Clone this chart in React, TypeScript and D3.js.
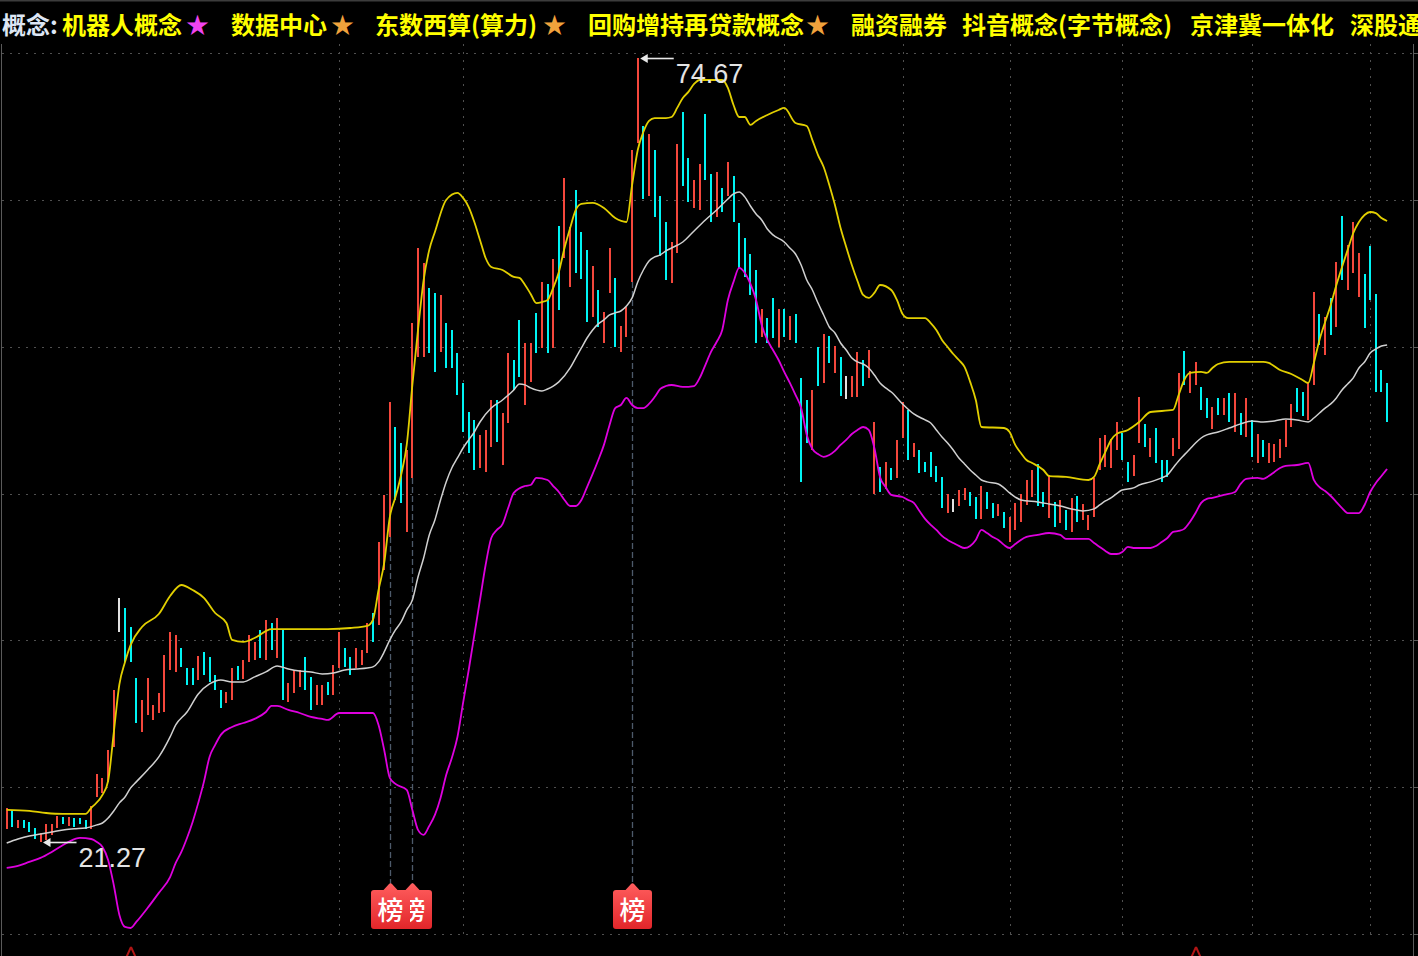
import React from "react";
import * as d3 from "d3";

const W = 1418;
const H = 956;

// header concepts
const conceptLabel = "概念:";
const concepts = ["机器人概念", "数据中心", "东数西算(算力)", "回购增持再贷款概念", "融资融券", "抖音概念(字节概念)", "京津冀一体化", "深股通"];
const conceptX = [62, 231, 375, 588, 851, 962, 1190, 1350];
const starX = [186, 331, 543, 806];
const starColor = ["#f044f0", "#f0a23c", "#f0a23c", "#f0a23c"];

// daily bars (price high / low), r = up, c = down, w = flat
const high = [
  23.59, 23.45, 22.77, 22.77, 22.63, 22.22, 21.88, 22.5, 22.5, 23.04,
  22.97, 22.97, 22.9, 22.9, 22.77, 23.72, 25.9, 25.63, 27.53, 31.62,
  37.89, 37.21, 35.91, 32.44, 30.94, 32.44, 30.6, 31.42, 34.0, 35.57,
  35.37, 34.48, 33.12, 33.12, 33.94, 34.21, 33.87, 32.64, 31.62, 31.48,
  33.12, 33.26, 33.66, 35.37, 34.89, 35.71, 36.39, 36.18, 36.52, 35.71,
  32.1, 32.98, 32.98, 33.87, 32.51, 31.96, 31.96, 32.17, 33.32, 35.57,
  34.48, 33.87, 34.48, 34.34, 36.18, 36.86, 41.7, 44.9, 51.23, 49.53,
  48.44, 47.96, 56.61, 61.72, 60.7, 59.0, 58.66, 58.52, 56.61, 56.14,
  54.57, 52.53, 50.55, 50.01, 48.99, 49.33, 51.37, 51.37, 50.48, 54.57,
  54.09, 56.82, 55.25, 55.25, 57.29, 59.41, 59.27, 60.97, 63.22, 66.49,
  63.15, 65.67, 62.81, 61.58, 60.5, 58.86, 57.36, 61.72, 59.68, 56.41,
  57.7, 68.39, 74.67, 70.03, 69.48, 68.39, 65.26, 63.49, 62.13, 68.8,
  70.98, 67.85, 66.35, 67.44, 70.85, 66.76, 66.9, 65.81, 67.58, 66.62,
  63.42, 62.4, 61.31, 60.22, 57.57, 56.95, 58.32, 57.57, 57.57, 57.09,
  57.23, 52.87, 51.37, 52.05, 54.98, 55.86, 55.73, 55.05, 54.3, 53.0,
  53.0, 54.64, 54.09, 54.77, 49.87, 46.81, 47.15, 46.74, 48.65, 51.23,
  50.69, 48.44, 47.96, 47.15, 47.83, 46.88, 46.13, 44.97, 44.63, 45.24,
  45.38, 45.1, 44.76, 45.51, 45.1, 44.36, 44.29, 43.74, 43.4, 44.36,
  44.97, 45.92, 46.6, 47.01, 45.1, 46.26, 44.42, 44.56, 43.88, 44.7,
  44.83, 44.29, 43.54, 46.06, 48.78, 48.99, 48.71, 49.87, 49.12, 47.15,
  47.62, 51.57, 49.74, 48.78, 49.46, 47.28, 47.28, 48.78, 53.21, 54.71,
  53.34, 53.96, 52.26, 51.51, 50.89, 51.51, 51.51, 51.85, 51.85, 50.48,
  51.51, 50.01, 49.05, 48.65, 48.44, 48.37, 48.71, 50.01, 51.1, 52.19,
  51.91, 52.53, 58.72, 57.23, 57.02, 58.32, 60.77, 63.9, 61.93, 63.49,
  61.38, 59.95, 61.86, 58.59, 53.41, 52.53,
];
const low = [
  22.16, 22.29, 22.22, 22.22, 21.95, 21.47, 21.27, 21.41, 21.75, 22.22,
  22.5, 22.36, 22.29, 22.5, 22.16, 22.16, 24.33, 24.61, 25.36, 27.74,
  35.57, 33.53, 33.53, 29.37, 28.76, 29.92, 29.58, 30.05, 30.12, 32.98,
  32.85, 33.19, 31.96, 31.96, 32.3, 32.64, 32.17, 31.62, 30.4, 30.74,
  30.94, 32.3, 32.37, 33.53, 33.66, 33.8, 33.66, 34.34, 33.8, 30.94,
  30.8, 31.42, 31.83, 31.62, 30.26, 30.6, 30.6, 31.28, 31.28, 33.12,
  33.19, 32.64, 33.12, 33.32, 34.14, 34.89, 36.05, 39.79, 42.04, 44.56,
  44.36, 42.38, 46.06, 54.3, 54.3, 54.57, 53.28, 54.64, 53.55, 53.55,
  51.71, 49.19, 47.76, 46.6, 46.74, 46.47, 48.17, 48.51, 46.94, 49.8,
  52.05, 52.94, 51.03, 52.6, 54.57, 54.91, 54.57, 54.91, 57.5, 61.04,
  59.07, 60.02, 59.61, 56.68, 57.02, 56.34, 55.25, 58.66, 54.98, 54.64,
  55.66, 59.41, 68.87, 65.06, 65.26, 63.83, 61.18, 59.54, 59.34, 61.38,
  65.94, 64.85, 64.45, 64.31, 66.35, 63.49, 63.83, 64.17, 65.26, 63.49,
  60.36, 59.75, 58.52, 55.25, 55.66, 55.25, 55.59, 54.98, 55.66, 55.46,
  55.25, 45.79, 48.44, 47.96, 52.32, 52.53, 53.89, 53.21, 51.64, 51.44,
  51.57, 51.57, 52.32, 52.87, 44.97, 45.1, 45.31, 45.92, 46.06, 48.78,
  47.28, 47.49, 46.4, 46.47, 46.13, 45.79, 44.02, 43.67, 43.74, 44.15,
  44.56, 44.15, 43.27, 43.27, 43.95, 43.33, 43.47, 42.65, 41.7, 42.52,
  43.06, 44.22, 44.76, 44.15, 44.08, 43.33, 42.72, 42.99, 42.52, 42.38,
  43.06, 43.2, 42.52, 43.4, 46.6, 46.81, 46.74, 47.96, 47.28, 45.79,
  46.19, 48.44, 48.17, 47.49, 47.08, 45.79, 46.13, 47.56, 48.03, 52.39,
  51.85, 52.39, 50.69, 50.14, 49.4, 50.35, 50.35, 49.87, 49.19, 48.99,
  48.85, 47.49, 47.08, 47.49, 47.08, 47.15, 47.42, 48.17, 49.53, 50.55,
  50.28, 50.01, 52.39, 55.12, 54.43, 55.8, 56.34, 59.54, 58.86, 60.02,
  58.38, 56.27, 58.18, 51.91, 51.91, 49.87,
];
const trend = (
  "rcrcccrrrr" + "crcccrrrrr" + "wcccrrrrrr" + "rcccrccccr" + "rcrrrcrcrc" +
  "rrrccrrcrr" + "ccrrrcrrrc" + "crrrrccrcc" + "ccccrrrcrr" + "ccrrcrcrcr" +
  "rcccrcrrcr" + "rrrcrcccrr" + "ccrrccrcrc" + "ccccrccrcr" + "cccrcrcrcw" +
  "rrcrrcrcrr" + "crcccccrwr" + "rccrccrcrr" + "rrrccrcrcr" + "crrrrrrrcc" +
  "rrcrcccrrc" + "rrccrcrcrc" + "rcrcrrrrrc" + "crrcrcrcrr" + "rccccc"
).split("");

// BOLL lines, [bar index, price]
const upperBand: [number, number][] = [
  [0, 23.45], [4, 23.38], [7, 23.24], [10, 23.18], [14, 23.18], [15, 23.59], [17, 24.47], [18, 25.42],
  [19, 28.7], [20, 32.0], [21, 33.53], [22, 34.69], [24, 35.91], [27, 36.79], [29, 38.02], [31, 38.77],
  [33, 38.43], [35, 37.89], [37, 36.86], [39, 36.18], [40, 35.03], [42, 34.89], [44, 35.16], [47, 35.77],
  [53, 35.77], [57, 35.77], [61, 35.84], [64, 35.98], [65, 36.39], [66, 38.43], [67, 40.27], [68, 43.4],
  [69, 44.76], [70, 46.26], [71, 48.31], [72, 52.39], [73, 56.14], [74, 59.54], [75, 61.59], [76, 62.81],
  [78, 64.99], [80, 65.47], [81, 65.13], [82, 64.51], [83, 63.49], [84, 62.27], [85, 61.04], [86, 60.43],
  [88, 60.22], [90, 59.75], [91, 59.68], [92, 59.2], [93, 58.59], [94, 57.97], [95, 58.04], [96, 58.18],
  [97, 59.0], [98, 60.09], [99, 61.72], [100, 63.08], [101, 64.31], [102, 64.72], [104, 64.79], [106, 64.45],
  [108, 63.76], [110, 63.49], [111, 66.01], [112, 68.39], [113, 69.62], [114, 70.37], [115, 70.57], [117, 70.57],
  [118, 70.64], [119, 71.26], [120, 71.94], [121, 72.35], [122, 72.89], [123, 73.16], [127, 73.16], [128, 72.62],
  [129, 71.46], [130, 70.64], [131, 70.64], [132, 70.1], [133, 70.37], [135, 70.78], [137, 71.12], [138, 71.26],
  [140, 70.23], [142, 70.03], [143, 69.07], [144, 68.05], [145, 67.24], [146, 66.01], [147, 64.65], [148, 63.08],
  [149, 61.79], [150, 60.56], [151, 59.47], [152, 58.52], [153, 58.32], [154, 58.66], [155, 59.2], [157, 58.86],
  [158, 58.18], [159, 57.23], [160, 56.95], [163, 56.95], [164, 56.61], [165, 56.14], [166, 55.46], [167, 54.98],
  [168, 54.5], [169, 54.09], [170, 53.62], [171, 52.6], [172, 51.37], [173, 49.53], [177, 49.46], [178, 49.19],
  [179, 48.31], [180, 47.76], [181, 47.28], [182, 47.08], [184, 46.6], [185, 46.19], [188, 46.13], [192, 45.92],
  [193, 46.13], [194, 47.01], [195, 47.83], [196, 48.65], [197, 49.06], [199, 49.33], [201, 49.87], [203, 50.55],
  [207, 50.69], [208, 51.71], [209, 52.73], [210, 53.21], [212, 53.28], [213, 53.21], [214, 53.55], [215, 53.82],
  [217, 53.96], [223, 53.96], [224, 53.89], [226, 53.41], [228, 53.14], [230, 52.73], [231, 52.53], [232, 53.89],
  [233, 55.46], [234, 56.68], [235, 57.84], [236, 59.2], [237, 60.43], [238, 61.59], [239, 62.74], [240, 63.49],
  [241, 63.97], [242, 64.17], [243, 64.1], [244, 63.76], [245, 63.56],
];
const midBand: [number, number][] = [
  [0, 21.2], [2, 21.47], [4, 21.68], [6, 21.81], [8, 21.95], [10, 22.09], [12, 22.16], [14, 22.22],
  [16, 22.43], [17, 22.56], [18, 22.9], [19, 23.38], [20, 23.93], [21, 24.33], [22, 24.95], [23, 25.36],
  [25, 26.17], [27, 27.06], [29, 28.42], [30, 29.24], [32, 30.12], [34, 31.35], [36, 32.03], [38, 32.3],
  [40, 32.17], [42, 32.17], [44, 32.51], [46, 32.85], [48, 33.26], [50, 33.05], [52, 32.91], [54, 32.85],
  [56, 32.71], [58, 32.78], [60, 32.98], [62, 33.05], [64, 33.12], [65, 33.19], [66, 33.53], [67, 34.21],
  [68, 35.03], [69, 35.71], [70, 36.25], [71, 37.07], [72, 37.75], [73, 39.31], [74, 40.61], [75, 42.17],
  [76, 43.2], [77, 44.56], [78, 45.79], [79, 46.74], [80, 47.42], [81, 48.1], [82, 48.65], [83, 49.19],
  [84, 49.87], [86, 50.82], [88, 51.37], [90, 52.05], [91, 52.46], [92, 52.4], [93, 52.19], [95, 51.98],
  [96, 52.12], [97, 52.32], [98, 52.6], [100, 53.55], [101, 54.23], [102, 54.91], [103, 55.59], [104, 56.14],
  [105, 56.55], [106, 56.82], [107, 57.16], [108, 57.3], [109, 57.43], [110, 57.77], [111, 58.32], [112, 59.41],
  [113, 60.22], [114, 60.84], [115, 61.11], [116, 61.25], [117, 61.52], [118, 61.72], [120, 62.13], [122, 62.88],
  [124, 63.63], [126, 64.31], [128, 65.06], [129, 65.4], [130, 65.54], [131, 65.2], [132, 64.58], [133, 64.04],
  [134, 63.63], [135, 63.01], [136, 62.61], [138, 62.13], [139, 61.72], [140, 61.31], [141, 60.56], [142, 59.54],
  [143, 58.86], [144, 57.97], [145, 57.16], [146, 56.34], [147, 55.93], [148, 55.25], [149, 54.77], [150, 54.23],
  [151, 53.96], [152, 53.82], [153, 53.55], [154, 53.07], [155, 52.53], [156, 52.19], [157, 51.91], [159, 51.1],
  [161, 50.42], [163, 50.01], [164, 49.8], [165, 49.33], [166, 48.85], [167, 48.44], [168, 47.96], [169, 47.42],
  [170, 47.01], [171, 46.6], [172, 46.26], [173, 45.92], [174, 45.79], [176, 45.65], [177, 45.38], [178, 45.04],
  [179, 44.76], [180, 44.56], [183, 44.42], [185, 44.29], [187, 44.15], [189, 43.95], [191, 43.81], [193, 43.95],
  [194, 44.22], [195, 44.49], [196, 44.7], [198, 45.24], [200, 45.38], [201, 45.58], [203, 45.79], [205, 46.06],
  [206, 46.26], [207, 46.74], [208, 47.22], [209, 47.63], [210, 48.03], [211, 48.44], [212, 48.78], [213, 48.99],
  [215, 49.19], [217, 49.46], [219, 49.74], [221, 49.94], [223, 49.87], [225, 49.94], [227, 50.08], [229, 50.01],
  [231, 49.87], [232, 50.14], [233, 50.48], [234, 50.82], [235, 51.1], [236, 51.51], [237, 52.05], [238, 52.46],
  [239, 52.87], [240, 53.55], [241, 53.96], [242, 54.57], [243, 54.84], [244, 55.05], [245, 55.12],
];
const lowerBand: [number, number][] = [
  [0, 19.5], [2, 19.64], [4, 19.91], [6, 20.18], [8, 20.59], [10, 21.06], [11, 21.27], [13, 21.54],
  [15, 21.47], [16, 21.27], [17, 20.93], [18, 20.04], [19, 18.34], [20, 16.3], [21, 15.48], [22, 15.41],
  [23, 15.82], [25, 16.77], [27, 17.8], [29, 18.88], [30, 19.84], [31, 20.59], [32, 21.54], [33, 22.63],
  [34, 23.93], [35, 25.36], [36, 27.06], [37, 27.88], [38, 28.56], [40, 29.1], [42, 29.37], [44, 29.65],
  [46, 30.12], [47, 30.53], [48, 30.53], [50, 30.26], [52, 30.05], [54, 29.78], [56, 29.65], [57, 29.58],
  [59, 30.05], [62, 30.05], [65, 30.05], [66, 29.24], [67, 27.53], [68, 25.63], [69, 25.22], [71, 24.81],
  [72, 23.45], [73, 22.09], [74, 21.75], [75, 22.36], [76, 23.11], [77, 24.27], [78, 25.83], [79, 26.99],
  [80, 28.42], [81, 30.74], [82, 32.98], [83, 35.37], [84, 37.75], [85, 40.13], [86, 41.97], [87, 42.52],
  [88, 42.92], [89, 44.01], [90, 45.04], [92, 45.51], [93, 45.58], [94, 46.06], [96, 45.92], [97, 45.51],
  [98, 45.1], [99, 44.56], [100, 44.15], [101, 44.15], [102, 44.56], [103, 45.44], [104, 46.33], [105, 47.28],
  [106, 48.31], [107, 49.67], [108, 50.82], [109, 51.03], [110, 51.51], [111, 51.03], [112, 50.82], [113, 50.82],
  [114, 51.1], [115, 51.57], [116, 52.12], [117, 52.32], [118, 52.39], [120, 52.26], [122, 52.32], [123, 52.87],
  [124, 53.75], [125, 54.64], [126, 55.32], [127, 56.14], [128, 58.18], [129, 59.41], [130, 60.36], [131, 60.02],
  [132, 59.27], [133, 58.18], [134, 56.48], [135, 55.46], [136, 54.77], [137, 54.09], [138, 53.28], [139, 52.53],
  [140, 51.71], [141, 50.82], [142, 48.99], [143, 48.03], [144, 47.69], [145, 47.49], [146, 47.62], [147, 47.9],
  [148, 48.31], [149, 48.65], [150, 49.05], [151, 49.33], [152, 49.53], [153, 49.33], [154, 48.1], [155, 46.13],
  [156, 45.44], [157, 44.9], [159, 44.76], [160, 44.56], [161, 44.36], [162, 43.81], [163, 43.27], [164, 42.86],
  [165, 42.52], [166, 42.11], [167, 41.84], [168, 41.63], [169, 41.43], [170, 41.29], [171, 41.43], [172, 41.84],
  [173, 42.52], [174, 42.31], [175, 42.04], [176, 41.84], [177, 41.5], [178, 41.29], [179, 41.56], [180, 41.84],
  [181, 42.04], [183, 42.18], [185, 42.31], [187, 42.18], [188, 41.91], [192, 41.91], [193, 41.63], [194, 41.36],
  [195, 41.09], [196, 40.88], [197, 40.88], [198, 41.02], [199, 41.36], [200, 41.29], [203, 41.29], [204, 41.43],
  [205, 41.7], [206, 41.97], [207, 42.38], [208, 42.45], [209, 42.59], [210, 43.06], [211, 43.67], [212, 44.36],
  [213, 44.63], [214, 44.7], [216, 44.9], [218, 45.1], [219, 45.65], [220, 45.99], [222, 46.06], [223, 45.99],
  [224, 46.19], [225, 46.47], [226, 46.74], [227, 46.88], [229, 46.94], [231, 47.08], [232, 45.92], [233, 45.44],
  [234, 45.17], [235, 44.83], [236, 44.42], [237, 44.01], [238, 43.67], [240, 43.67], [241, 44.22], [242, 45.1],
  [243, 45.72], [244, 46.19], [245, 46.67],
];

const priceTicks = [75, 65, 55, 45, 35, 25, 15];
const monthStart = [59, 81, 138, 159, 178, 198, 221, 242];
const listIdx = [68, 72, 111]; // 龙虎榜 days
const listText = "榜";
const bottomMarks = [22, 211];
const extremes = [
  { idx: 112, value: 74.67, label: "74.67" },
  { idx: 6, value: 21.27, label: "21.27" },
];

const RED = "#f4473c";
const CYAN = "#00f4f4";
const WHITE = "#e2e2e2";
const GRID = "#505050";
const FRAME = "#5a5a5a";
const CJK = "'Noto Sans CJK SC', sans-serif";

export default function App() {
  const x = d3.scaleLinear().domain([0, high.length - 1]).range([6.7, 1387.1]);
  const y = d3.scaleLinear().domain([15, 75]).range([934, 53]);
  const px = (i: number) => Math.round(x(i));
  const line = d3
    .line<[number, number]>()
    .x(d => x(d[0]))
    .y(d => y(d[1]))
    .curve(d3.curveMonotoneX);

  const tagPath = (cx: number) => {
    const l = cx - 19.5, r = cx + 19.5, t = 890, b = 929, rr = 3;
    return `M${l + rr},${t} L${cx - 7},${t} L${cx - 1.5},${t - 6} Q${cx},${t - 7.5} ${cx + 1.5},${t - 6} L${cx + 7},${t} L${r - rr},${t} Q${r},${t} ${r},${t + rr} L${r},${b - rr} Q${r},${b} ${r - rr},${b} L${l + rr},${b} Q${l},${b} ${l},${b - rr} L${l},${t + rr} Q${l},${t} ${l + rr},${t} Z`;
  };

  return (
    <svg
      width={W}
      height={H}
      viewBox={`0 0 ${W} ${H}`}
      style={{ position: "absolute", left: 0, top: 0, display: "block", background: "#000" }}
    >
      <defs>
        <linearGradient id="tagGrad" x1="0" y1="0" x2="0" y2="1">
          <stop offset="0" stopColor="#ff5e5e" />
          <stop offset="1" stopColor="#e2262a" />
        </linearGradient>
      </defs>
      <rect x={0} y={0} width={W} height={H} fill="#000" />
      <rect x={0} y={0} width={W} height={1.5} fill="#3c3c3c" />

      {/* frame */}
      <line x1={1.5} x2={1.5} y1={44} y2={H} stroke={FRAME} strokeWidth={1} />
      <line x1={1413.5} x2={1413.5} y1={44} y2={H} stroke={FRAME} strokeWidth={1} />

      {/* grid */}
      {priceTicks.map(t => {
        const yy = Math.round(y(t)) + 0.5;
        return (
          <g key={t}>
            <line x1={2} x2={1413} y1={yy} y2={yy} stroke={GRID} strokeDasharray="2,6" />
            <line x1={1413} x2={W} y1={yy} y2={yy} stroke={FRAME} />
          </g>
        );
      })}
      {monthStart.map(i => (
        <line key={i} x1={px(i) + 0.5} x2={px(i) + 0.5} y1={44} y2={934} stroke={GRID} strokeDasharray="2,6" />
      ))}

      {/* list-day markers */}
      {listIdx.map(i => (
        <line
          key={i}
          x1={px(i) + 0.5}
          x2={px(i) + 0.5}
          y1={y(low[i])}
          y2={884}
          stroke="#4d5a6a"
          strokeWidth={1.3}
          strokeDasharray="6,3"
        />
      ))}

      {/* bars */}
      <g shapeRendering="crispEdges">
        {high.map((h, i) => (
          <rect
            key={i}
            x={px(i) - 1}
            y={y(h)}
            width={2}
            height={Math.max(1, y(low[i]) - y(h))}
            fill={trend[i] === "r" ? RED : trend[i] === "c" ? CYAN : WHITE}
          />
        ))}
      </g>

      {/* BOLL */}
      <path d={line(upperBand) || ""} fill="none" stroke="#e2cf00" strokeWidth={1.8} />
      <path d={line(midBand) || ""} fill="none" stroke="#d0d0d0" strokeWidth={1.5} />
      <path d={line(lowerBand) || ""} fill="none" stroke="#de00de" strokeWidth={1.8} />

      {/* extreme price notes */}
      {extremes.map(e => {
        const cx = x(e.idx);
        const cy = Math.round(y(e.value)) + 0.5;
        return (
          <g key={e.label}>
            <line x1={cx + 9} x2={cx + 36} y1={cy} y2={cy} stroke="#e8e8e8" strokeWidth={1.6} />
            <path d={`M${cx + 2.5},${cy} L${cx + 10},${cy - 4.5} L${cx + 10},${cy + 4.5} Z`} fill="#e8e8e8" />
            <text
              x={cx + 38}
              y={cy + 24.5}
              fill="#e4e4e4"
              fontSize={27}
              fontFamily="'Liberation Sans', Arial, sans-serif"
            >
              {e.label}
            </text>
          </g>
        );
      })}

      {/* bottom marks */}
      {bottomMarks.map(i => (
        <path
          key={i}
          d={`M${px(i)},${947} L${px(i) - 5},${958} M${px(i)},${947} L${px(i) + 5},${958}`}
          stroke="#b01515"
          strokeWidth={2}
          fill="none"
        />
      ))}

      {/* list tags, first one on top */}
      {[...listIdx].reverse().map(i => (
        <g key={i}>
          <path d={tagPath(px(i) + 0.5)} fill="url(#tagGrad)" />
          <text x={px(i) + 0.5} y={920} textAnchor="middle" fill="#fff" fontSize={26} fontWeight={500} fontFamily={CJK}>
            {listText}
          </text>
        </g>
      ))}

      {/* header */}
      <text x={2} y={34} fill="#dde6f4" fontSize={24} fontWeight={700} fontFamily={CJK}>
        {conceptLabel}
      </text>
      {concepts.map((c, i) => (
        <text key={c} x={conceptX[i]} y={34} fill="#ffff00" fontSize={24} fontWeight={700} fontFamily={CJK}>
          {c}
        </text>
      ))}
      {starX.map((sx, i) => (
        <text key={sx} x={sx} y={33} fill={starColor[i]} fontSize={23} fontFamily={CJK}>
          ★
        </text>
      ))}
    </svg>
  );
}
